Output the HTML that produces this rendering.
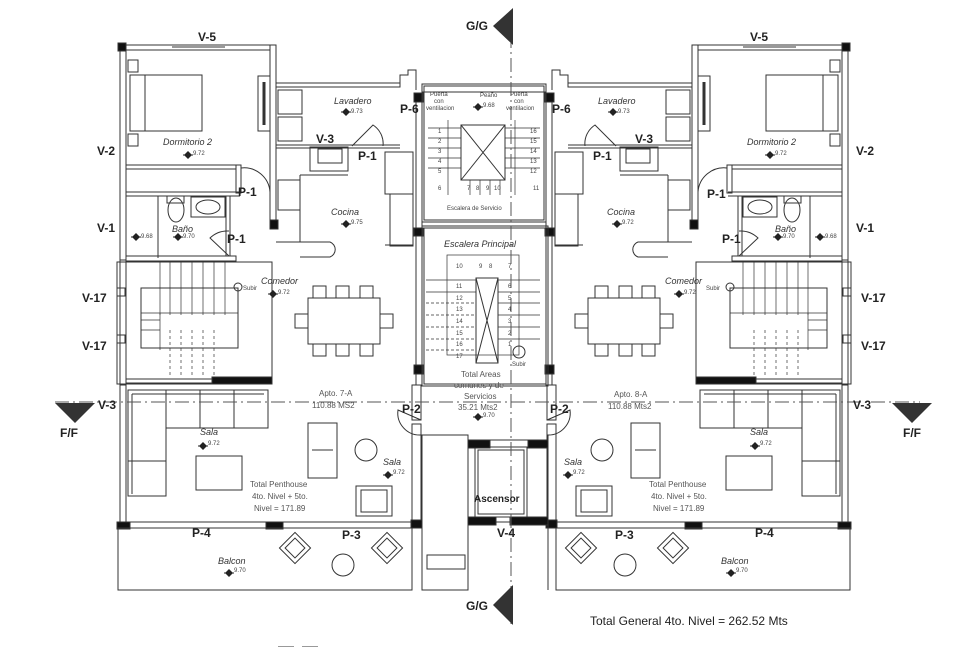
<!DOCTYPE html>
<html><head><meta charset="utf-8"><style>
html,body{margin:0;padding:0;background:#fff}
svg{display:block}
text{font-family:"Liberation Sans",sans-serif;fill:#222}
.b{font-weight:bold;font-size:12px}
.i{font-style:italic;font-size:9px;fill:#333}
.s{font-size:8px;fill:#555}
.n{font-size:6px;fill:#444}
</style></head><body>
<svg width="960" height="647" viewBox="0 0 960 647" xmlns="http://www.w3.org/2000/svg">
<defs>
<g id="half" fill="none" stroke="#333" stroke-width="1">
  <!-- outer walls -->
  <rect x="120" y="45" width="6" height="215" fill="#fff"/>
  <rect x="120" y="260" width="6" height="125" fill="#fff"/>
  <rect x="120" y="385" width="6" height="140" fill="#fff"/>
  <rect x="120" y="45" width="152" height="5" fill="#fff"/>
  <line x1="172" y1="47" x2="225" y2="47"/>
  <rect x="118" y="43" width="8" height="8" fill="#111"/>
  <rect x="270" y="45" width="6" height="183" fill="#fff"/>
  <rect x="270" y="220" width="8" height="9" fill="#111"/>
  <!-- lavadero -->
  <rect x="276" y="83" width="124" height="4" fill="#fff"/>
  <path d="M400 83 V75 H408 V70 H416 V90"/>
  <rect x="278" y="90" width="24" height="24"/><rect x="278" y="117" width="24" height="24"/>
  <line x1="276" y1="145" x2="400" y2="145"/><line x1="276" y1="148" x2="400" y2="148"/>
  <path d="M352 146 L373 125 A22 22 0 0 1 383 146"/>
  <rect x="310" y="147" width="38" height="24"/><rect x="318" y="149" width="24" height="14"/>
  <rect x="278" y="180" width="22" height="30"/>
  <line x1="300" y1="175" x2="348" y2="175"/><line x1="300" y1="175" x2="300" y2="242"/>
  <path d="M276 242 H330 A8 8 0 0 1 330 257 H300"/>
  <rect x="385" y="152" width="28" height="42"/><rect x="390" y="194" width="23" height="52"/>
  <line x1="385" y1="245" x2="413" y2="245"/>
  <!-- bedroom -->
  <rect x="130" y="75" width="72" height="56"/><line x1="145" y1="75" x2="145" y2="131"/>
  <rect x="128" y="60" width="10" height="12"/><rect x="128" y="134" width="10" height="12"/>
  <rect x="258" y="76" width="12" height="55"/><line x1="264" y1="82" x2="264" y2="125" stroke-width="3"/>
  <rect x="126" y="165" width="112" height="4"/><rect x="236" y="165" width="5" height="28" fill="#fff"/>
  <line x1="126" y1="192" x2="240" y2="192"/><line x1="126" y1="196" x2="240" y2="196"/>
  <path d="M241 168 A26 26 0 0 1 270 192"/>
  <!-- bath -->
  <line x1="158" y1="196" x2="158" y2="258"/>
  <ellipse cx="176" cy="210" rx="8" ry="12"/><rect x="167" y="196" width="17" height="7"/>
  <rect x="191" y="197" width="34" height="20"/><ellipse cx="208" cy="207" rx="12" ry="7"/>
  <rect x="226" y="196" width="4" height="60"/>
  <path d="M229 256 L210 238 A25 25 0 0 1 229 231"/>
  <rect x="126" y="256" width="110" height="5"/>
  <!-- stair room -->
  <rect x="117" y="262" width="155" height="122"/><line x1="126" y1="262" x2="126" y2="384"/>
  <rect x="141" y="288" width="97" height="60"/>
  <g stroke-width=".7">
  <line x1="160" y1="262" x2="160" y2="315"/><line x1="170" y1="262" x2="170" y2="315"/><line x1="181" y1="262" x2="181" y2="315"/><line x1="192" y1="262" x2="192" y2="315"/><line x1="203" y1="262" x2="203" y2="315"/><line x1="214" y1="262" x2="214" y2="315"/><line x1="225" y1="262" x2="225" y2="315"/>
  <line x1="141" y1="313" x2="160" y2="313"/><line x1="141" y1="320" x2="160" y2="320"/><line x1="141" y1="330" x2="160" y2="330"/>
  <line x1="160" y1="313" x2="238" y2="313"/><line x1="160" y1="313" x2="160" y2="350"/>
  <line x1="170" y1="330" x2="170" y2="378" stroke-dasharray="3 3"/><line x1="181" y1="330" x2="181" y2="378" stroke-dasharray="3 3"/><line x1="192" y1="330" x2="192" y2="378" stroke-dasharray="3 3"/><line x1="203" y1="330" x2="203" y2="378" stroke-dasharray="3 3"/><line x1="214" y1="330" x2="214" y2="378" stroke-dasharray="3 3"/>
  </g>
  <rect x="117" y="288" width="8" height="8" /><rect x="117" y="335" width="8" height="8"/>
  <rect x="212" y="377" width="60" height="7" fill="#111"/><rect x="126" y="379" width="86" height="4"/>
  <circle cx="238" cy="287" r="4"/>
  <!-- dining -->
  <rect x="308" y="298" width="72" height="46"/>
  <rect x="313" y="286" width="13" height="12"/><rect x="336" y="286" width="13" height="12"/><rect x="360" y="286" width="13" height="12"/>
  <rect x="313" y="344" width="13" height="12"/><rect x="336" y="344" width="13" height="12"/><rect x="360" y="344" width="13" height="12"/>
  <rect x="295" y="314" width="13" height="14"/><rect x="380" y="314" width="13" height="14"/>
  <!-- living -->
  <path d="M128 390 H268 V428 H166 V496 H128 Z"/><line x1="132" y1="394" x2="264" y2="394"/><line x1="132" y1="394" x2="132" y2="494"/>
  <line x1="166" y1="390" x2="166" y2="428"/><line x1="200" y1="390" x2="200" y2="428"/><line x1="234" y1="390" x2="234" y2="428"/><line x1="128" y1="461" x2="166" y2="461"/>
  <rect x="196" y="456" width="46" height="34"/>
  <rect x="308" y="423" width="29" height="55"/><line x1="312" y1="450" x2="333" y2="450"/>
  <circle cx="366" cy="450" r="11"/>
  <rect x="356" y="486" width="36" height="30"/><rect x="361" y="490" width="26" height="22"/>
  <line x1="126" y1="522" x2="412" y2="522"/>
  <rect x="117" y="522" width="13" height="7" fill="#111"/><rect x="266" y="522" width="17" height="7" fill="#111"/>
  <rect x="412" y="385" width="9" height="35" fill="#fff"/><rect x="412" y="424" width="9" height="98" fill="#fff"/><rect x="411" y="520" width="11" height="8" fill="#111"/>
  <path d="M421 420 L398 410 A22 22 0 0 0 421 435"/>
  <!-- balcony -->
  <rect x="118" y="528" width="294" height="62"/>
  <g transform="translate(295 548) rotate(45)"><rect x="-11" y="-11" width="22" height="22"/><rect x="-7" y="-7" width="14" height="14"/></g>
  <g transform="translate(387 548) rotate(45)"><rect x="-11" y="-11" width="22" height="22"/><rect x="-7" y="-7" width="14" height="14"/></g>
  <circle cx="343" cy="565" r="11"/>
  <!-- core left wall -->
  <rect x="416" y="95" width="6" height="290" fill="#fff"/>
  <rect x="414" y="93" width="9" height="9" fill="#111"/><rect x="414" y="228" width="9" height="8" fill="#111"/><rect x="414" y="365" width="9" height="9" fill="#111"/>
</g>
<g id="mk"><path d="M-4 0 L0 -4 L4 0 L0 4 Z" fill="#222"/><line x1="-5" y1="0" x2="5" y2="0" stroke="#222"/></g>
</defs>

<use href="#half"/>
<use href="#half" transform="matrix(-1 0 0 1 968 0)"/>

<!-- core -->
<g fill="none" stroke="#333" stroke-width="1">
  <rect x="422" y="84" width="124" height="138"/><rect x="424" y="86" width="120" height="134"/>
  <line x1="422" y1="92" x2="546" y2="92"/>
  <rect x="461" y="125" width="44" height="55"/><line x1="461" y1="125" x2="505" y2="180"/><line x1="505" y1="125" x2="461" y2="180"/>
  <g stroke-width=".7">
  <line x1="428" y1="128" x2="461" y2="128"/><line x1="428" y1="138" x2="461" y2="138"/><line x1="428" y1="148" x2="461" y2="148"/><line x1="428" y1="158" x2="461" y2="158"/><line x1="428" y1="168" x2="461" y2="168"/>
  <line x1="505" y1="128" x2="540" y2="128"/><line x1="505" y1="138" x2="540" y2="138"/><line x1="505" y1="148" x2="540" y2="148"/><line x1="505" y1="158" x2="540" y2="158"/><line x1="505" y1="168" x2="540" y2="168"/>
  <line x1="448" y1="120" x2="448" y2="195"/><line x1="470" y1="180" x2="470" y2="195"/><line x1="480" y1="180" x2="480" y2="195"/><line x1="490" y1="180" x2="490" y2="195"/><line x1="500" y1="180" x2="500" y2="195"/><line x1="515" y1="120" x2="515" y2="195"/>
  </g>
  <rect x="422" y="226" width="126" height="160"/><rect x="424" y="228" width="122" height="156"/>
  <rect x="476" y="278" width="22" height="85"/><line x1="476" y1="278" x2="498" y2="363"/><line x1="498" y1="278" x2="476" y2="363"/>
  <g stroke-width=".7">
  <rect x="447" y="255" width="72" height="100"/>
  <line x1="426" y1="280" x2="476" y2="280"/><line x1="426" y1="292" x2="476" y2="292"/><line x1="426" y1="303" x2="476" y2="303" stroke-dasharray="3 2"/><line x1="426" y1="315" x2="476" y2="315" stroke-dasharray="3 2"/><line x1="426" y1="327" x2="476" y2="327" stroke-dasharray="3 2"/><line x1="426" y1="339" x2="476" y2="339" stroke-dasharray="3 2"/><line x1="426" y1="350" x2="476" y2="350" stroke-dasharray="3 2"/>
  <line x1="498" y1="280" x2="540" y2="280"/><line x1="498" y1="292" x2="540" y2="292"/><line x1="498" y1="303" x2="540" y2="303"/><line x1="498" y1="315" x2="540" y2="315"/><line x1="498" y1="327" x2="540" y2="327"/><line x1="498" y1="339" x2="540" y2="339"/>
  </g>
  <circle cx="519" cy="352" r="6"/>
  <!-- lower core -->
  <rect x="422" y="435" width="46" height="155"/>
  <rect x="427" y="555" width="38" height="14"/>
  <rect x="468" y="440" width="80" height="82"/>
  <rect x="475" y="447" width="52" height="70"/><rect x="478" y="450" width="46" height="64"/>
  <rect x="468" y="440" width="22" height="8" fill="#111"/><rect x="528" y="440" width="20" height="8" fill="#111"/>
  <rect x="468" y="517" width="28" height="8" fill="#111"/><rect x="510" y="517" width="38" height="8" fill="#111"/>
  <line x1="468" y1="435" x2="468" y2="590"/><line x1="548" y1="435" x2="548" y2="590"/>
</g>

<!-- section lines -->
<line x1="511" y1="10" x2="511" y2="625" stroke="#555" stroke-width="1" stroke-dasharray="14 4 2 4"/>
<line x1="55" y1="402" x2="920" y2="402" stroke="#555" stroke-width="1" stroke-dasharray="14 4 2 4"/>
<path d="M513 8 L513 45 L493 26 Z" fill="#333"/>
<path d="M513 585 L513 625 L493 605 Z" fill="#333"/>
<path d="M55 403 L95 403 L75 423 Z" fill="#333"/>
<path d="M892 403 L932 403 L912 423 Z" fill="#333"/>

<!-- labels left -->
<text class="b" x="198" y="41">V-5</text>
<text class="b" x="97" y="155">V-2</text>
<text class="b" x="97" y="232">V-1</text>
<text class="b" x="82" y="302">V-17</text>
<text class="b" x="82" y="350">V-17</text>
<text class="b" x="98" y="409">V-3</text>
<text class="b" x="238" y="196">P-1</text>
<text class="b" x="227" y="243">P-1</text>
<text class="b" x="400" y="113">P-6</text>
<text class="b" x="316" y="143">V-3</text>
<text class="b" x="358" y="160">P-1</text>
<text class="b" x="402" y="413">P-2</text>
<text class="b" x="192" y="537">P-4</text>
<text class="b" x="342" y="539">P-3</text>
<text class="i" x="163" y="145">Dormitorio  2</text><use href="#mk" x="188" y="155"/><text class="n" x="193" y="155">9.72</text>
<text class="i" x="172" y="232">Baño</text><use href="#mk" x="178" y="237"/><text class="n" x="183" y="238">9.70</text>
<use href="#mk" x="136" y="237"/><text class="n" x="141" y="238">9.68</text>
<text class="i" x="334" y="104">Lavadero</text><use href="#mk" x="346" y="112"/><text class="n" x="351" y="113">9.73</text>
<text class="i" x="331" y="215">Cocina</text><use href="#mk" x="346" y="224"/><text class="n" x="351" y="224">9.75</text>
<text class="i" x="261" y="284">Comedor</text><use href="#mk" x="273" y="294"/><text class="n" x="278" y="294">9.72</text>
<text class="n" x="243" y="290">Subir</text>
<text class="s" x="319" y="396">Apto. 7-A</text>
<text class="s" x="312" y="408">110.88 MS2</text>
<text class="i" x="200" y="435">Sala</text><use href="#mk" x="203" y="446"/><text class="n" x="208" y="445">9.72</text>
<text class="i" x="383" y="465">Sala</text><use href="#mk" x="388" y="475"/><text class="n" x="393" y="474">9.72</text>
<text class="s" x="250" y="487">Total Penthouse</text>
<text class="s" x="252" y="499">4to. Nivel + 5to.</text>
<text class="s" x="254" y="511">Nivel = 171.89</text>
<text class="i" x="218" y="564">Balcon</text><use href="#mk" x="229" y="573"/><text class="n" x="234" y="572">9.70</text>

<!-- labels right -->
<text class="b" x="750" y="41">V-5</text>
<text class="b" x="856" y="155">V-2</text>
<text class="b" x="856" y="232">V-1</text>
<text class="b" x="861" y="302">V-17</text>
<text class="b" x="861" y="350">V-17</text>
<text class="b" x="853" y="409">V-3</text>
<text class="b" x="707" y="198">P-1</text>
<text class="b" x="722" y="243">P-1</text>
<text class="b" x="552" y="113">P-6</text>
<text class="b" x="635" y="143">V-3</text>
<text class="b" x="593" y="160">P-1</text>
<text class="b" x="550" y="413">P-2</text>
<text class="b" x="755" y="537">P-4</text>
<text class="b" x="615" y="539">P-3</text>
<text class="i" x="747" y="145">Dormitorio  2</text><use href="#mk" x="770" y="155"/><text class="n" x="775" y="155">9.72</text>
<text class="i" x="775" y="232">Baño</text><use href="#mk" x="778" y="237"/><text class="n" x="783" y="238">9.70</text>
<use href="#mk" x="820" y="237"/><text class="n" x="825" y="238">9.68</text>
<text class="i" x="598" y="104">Lavadero</text><use href="#mk" x="613" y="112"/><text class="n" x="618" y="113">9.73</text>
<text class="i" x="607" y="215">Cocina</text><use href="#mk" x="617" y="224"/><text class="n" x="622" y="224">9.72</text>
<text class="i" x="665" y="284">Comedor</text><use href="#mk" x="679" y="294"/><text class="n" x="684" y="294">9.72</text>
<text class="n" x="706" y="290">Subir</text>
<text class="s" x="614" y="397">Apto. 8-A</text>
<text class="s" x="608" y="409">110.88 Mts2</text>
<text class="i" x="750" y="435">Sala</text><use href="#mk" x="755" y="446"/><text class="n" x="760" y="445">9.72</text>
<text class="i" x="564" y="465">Sala</text><use href="#mk" x="568" y="475"/><text class="n" x="573" y="474">9.72</text>
<text class="s" x="649" y="487">Total Penthouse</text>
<text class="s" x="651" y="499">4to. Nivel + 5to.</text>
<text class="s" x="653" y="511">Nivel = 171.89</text>
<text class="i" x="721" y="564">Balcon</text><use href="#mk" x="731" y="573"/><text class="n" x="736" y="572">9.70</text>

<!-- core labels -->
<text class="n" x="430" y="96">Puerta</text><text class="n" x="434" y="103">con</text><text class="n" x="426" y="110">ventilacion</text>
<text class="n" x="480" y="97">Peaño</text><use href="#mk" x="478" y="107"/><text class="n" x="483" y="107">9.68</text>
<text class="n" x="510" y="96">Puerta</text><text class="n" x="514" y="103">con</text><text class="n" x="506" y="110">ventilacion</text>
<g class="n" font-size="7">
<text class="n" x="438" y="133">1</text><text class="n" x="438" y="143">2</text><text class="n" x="438" y="153">3</text><text class="n" x="438" y="163">4</text><text class="n" x="438" y="173">5</text><text class="n" x="438" y="190">6</text>
<text class="n" x="467" y="190">7</text><text class="n" x="476" y="190">8</text><text class="n" x="486" y="190">9</text><text class="n" x="494" y="190">10</text><text class="n" x="533" y="190">11</text>
<text class="n" x="530" y="133">16</text><text class="n" x="530" y="143">15</text><text class="n" x="530" y="153">14</text><text class="n" x="530" y="163">13</text><text class="n" x="530" y="173">12</text>
<text class="n" x="456" y="268">10</text><text class="n" x="479" y="268">9</text><text class="n" x="489" y="268">8</text><text class="n" x="508" y="268">7</text>
<text class="n" x="456" y="288">11</text><text class="n" x="456" y="300">12</text><text class="n" x="456" y="311">13</text><text class="n" x="456" y="323">14</text><text class="n" x="456" y="335">15</text><text class="n" x="456" y="346">16</text><text class="n" x="456" y="358">17</text>
<text class="n" x="508" y="288">6</text><text class="n" x="508" y="300">5</text><text class="n" x="508" y="311">4</text><text class="n" x="508" y="323">3</text><text class="n" x="508" y="335">2</text><text class="n" x="508" y="346">1</text>
</g>
<text class="n" x="512" y="366">Subir</text>
<text class="n" x="447" y="210">Escalera de Servicio</text>
<text class="i" x="444" y="247">Escalera Principal</text>
<text class="s" x="461" y="377">Total Areas</text>
<text class="s" x="454" y="388">comunes y de</text>
<text class="s" x="464" y="399">Servicios</text>
<text class="s" x="458" y="410">35.21 Mts2</text>
<use href="#mk" x="478" y="417"/><text class="n" x="483" y="417">9.70</text>
<text class="b" x="474" y="502" font-size="10" style="font-weight:bold;font-size:10px">Ascensor</text>
<text class="b" x="497" y="537">V-4</text>
<text class="b" x="466" y="30">G/G</text>
<text class="b" x="466" y="610">G/G</text>
<text class="b" x="60" y="437">F/F</text>
<text class="b" x="903" y="437">F/F</text>
<text x="590" y="625" style="font-size:12px">Total General  4to. Nivel = 262.52 Mts</text>
<line x1="278" y1="647" x2="294" y2="647" stroke="#333"/><line x1="302" y1="647" x2="318" y2="647" stroke="#333"/>
</svg>
</body></html>
